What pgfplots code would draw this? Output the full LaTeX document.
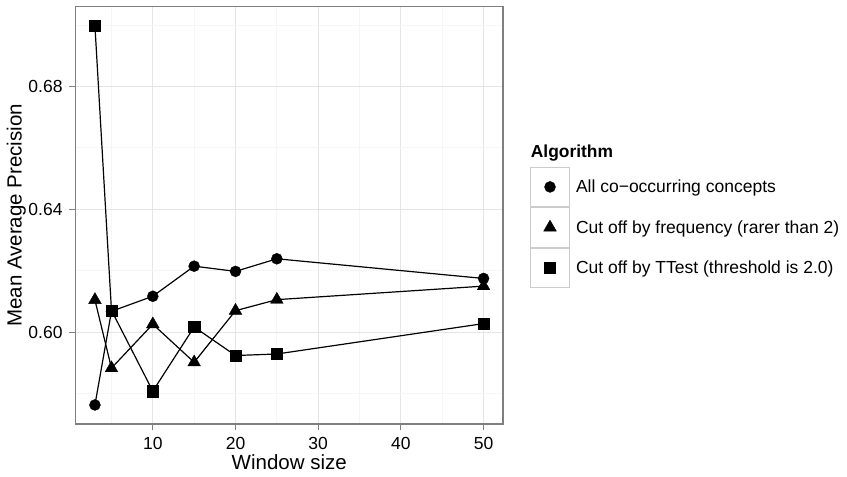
\documentclass[border=0pt]{standalone}
\usepackage{pgfplots}
\pgfplotsset{compat=1.18}
\usepackage{fontspec}
\setmainfont{Liberation Sans}
\definecolor{grey50}{RGB}{127,127,127}
\definecolor{grey90}{RGB}{229,229,229}
\definecolor{grey98}{RGB}{246,246,246}
\definecolor{keygrey}{RGB}{204,204,204}
\newcommand{\tickfont}{\fontsize{17.5bp}{21bp}\selectfont}
\newcommand{\titlefont}{\fontsize{20.5bp}{24bp}\selectfont}
\begin{document}
\begin{tikzpicture}
\begin{axis}[
  scale only axis, width=427.5bp, height=417.3bp,
  xmin=0.65, xmax=52.35, ymin=0.5701, ymax=0.7060,
  clip mode=individual,
  xtick={10,20,30,40,50}, ytick={0.60,0.64,0.68},
  minor xtick={5,15,25,35,45}, minor ytick={0.58,0.62,0.66,0.70},
  grid=both,
  major grid style={draw=grey90, line width=1bp},
  minor grid style={draw=grey98, line width=1bp},
  axis line style={draw=grey50, line width=1.2bp},
  tick pos=left, tick align=outside,
  major tick length=6bp, minor tick length=0pt,
  major tick style={draw=grey50, line width=1bp},
  /pgf/number format/assume math mode=true,
  ticklabel style={font=\tickfont},
  yticklabel style={/pgf/number format/fixed, /pgf/number format/fixed zerofill, /pgf/number format/precision=2, anchor=east, inner sep=0pt, xshift=-6.8bp},
  xticklabel style={anchor=north, inner sep=0pt, yshift=-7.5bp},
  xlabel={Window size}, ylabel={Mean Average Precision},
  every axis x label/.style={at={(axis description cs:0.5,-0.1102)}, anchor=base, font=\titlefont},
  every axis y label/.style={at={(axis description cs:-0.1258,0.5)}, rotate=90, anchor=base, font=\titlefont},
  legend style={at={(axis description cs:1.0632,0.6166)}, anchor=north west, draw=none, fill=none,
    inner sep=0pt, outer sep=0pt, row sep=0pt, column sep=6bp, font=\tickfont,
    nodes={inner sep=0pt}, cells={anchor=west}},
  legend image code/.code={
    \draw[draw=keygrey, fill=white, line width=1bp, solid] (-19.5bp,-19.75bp) rectangle (19.5bp,19.75bp);
    \draw plot coordinates {(0bp,0bp)};
  },
  every axis plot/.append style={black, line width=1.2bp},
]
\addplot[mark=*, mark size=5.5bp, mark options={solid, fill=black, line width=0.4bp}] coordinates {
  (3,0.5763) (5,0.6068) (10,0.6117) (15,0.6215) (20,0.6198) (25,0.6239) (50,0.6175)};
\addlegendentry{All co−occurring concepts}
\addplot[mark=triangle*, mark size=7.3bp, mark options={solid, fill=black, line width=0.4bp}] coordinates {
  (3,0.6105) (5,0.5883) (10,0.6026) (15,0.5902) (20,0.6070) (25,0.6106) (50,0.6150)};
\addlegendentry{Cut off by frequency (rarer than 2)}
\addplot[mark=square*, mark size=5.6bp, mark options={solid, fill=black, line width=0.4bp}] coordinates {
  (3,0.6998) (5,0.6071) (10,0.5808) (15,0.6017) (20,0.5924) (25,0.5929) (50,0.6028)};
\addlegendentry{Cut off by TTest (threshold is 2.0)}
\node[anchor=base west, inner sep=0pt, font=\fontsize{17.4bp}{21bp}\selectfont\bfseries] at (axis description cs:1.0648,0.6398) {Algorithm};
\end{axis}
\pgfresetboundingbox
\useasboundingbox (-75.5bp,-53bp) rectangle (771.5bp,424bp);
\end{tikzpicture}
\end{document}
